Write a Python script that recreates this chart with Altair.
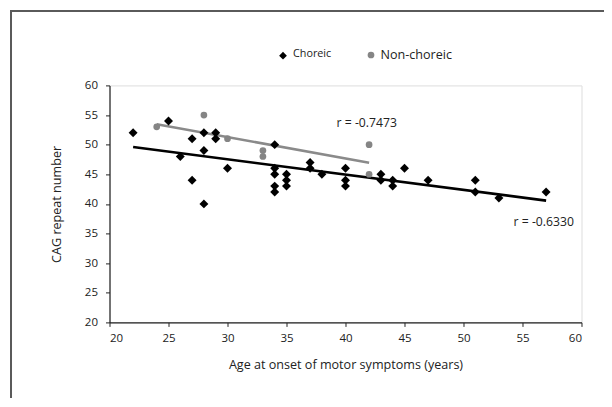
import altair as alt
import pandas as pd

# ---- data ----
choreic_age = [22, 25, 26, 27, 27, 28, 28, 28, 29, 29, 30,
               34, 34, 34, 34, 34, 35, 35, 35, 37, 37, 38,
               40, 40, 40, 43, 43, 44, 44, 45, 47, 51, 51, 53, 57]
choreic_cag = [52, 54, 48, 51, 44, 52, 49, 40, 52, 51, 46,
               50, 46, 45, 43, 42, 45, 44, 43, 47, 46, 45,
               46, 44, 43, 45, 44, 44, 43, 46, 44, 44, 42, 41, 42]
nonchoreic_age = [24, 28, 30, 33, 33, 42, 42]
nonchoreic_cag = [53, 55, 51, 49, 48, 50, 45]

r_labels = ["r = -0.7473", "r = -0.6330"]
r_label_age = [41.8, 56.8]
r_label_cag = [53.7, 37.0]

legend_labels = ["Choreic", "Non-choreic"]

FONT = "Open Sans"

cho = pd.DataFrame({"age": choreic_age, "cag": choreic_cag})
non = pd.DataFrame({"age": nonchoreic_age, "cag": nonchoreic_cag})
ann = pd.DataFrame({"age": r_label_age, "cag": r_label_cag, "label": r_labels})
one = pd.DataFrame({"k": [0]})

xscale = alt.Scale(domain=[20, 60], nice=False, zero=False)
yscale = alt.Scale(domain=[20, 60], nice=False, zero=False)

xaxis = alt.Axis(title="Age at onset of motor symptoms (years)",
                 values=list(range(20, 61, 5)), grid=False,
                 domainColor="#222", domainWidth=1.2, tickColor="#222",
                 tickSize=4, labelPadding=6, labelFontSize=11.5, labelFont=FONT,
                 labelColor="#222", titleFont=FONT, titleFontSize=12.6,
                 titleFontWeight="normal", titleColor="#222", titlePadding=15)
yaxis = alt.Axis(title="CAG repeat number",
                 values=list(range(20, 61, 5)), grid=False,
                 domainColor="#222", domainWidth=1.2, tickColor="#222",
                 tickSize=4, labelPadding=8, labelFontSize=11.5, labelFont=FONT,
                 labelColor="#222", titleFont=FONT, titleFontSize=12.6,
                 titleFontWeight="normal", titleColor="#222", titlePadding=21)

X = alt.X("age:Q", scale=xscale, axis=xaxis)
Y = alt.Y("cag:Q", scale=yscale, axis=yaxis)

frame = alt.Chart(one).mark_rect(fillOpacity=0, stroke="#5a5a5a", strokeWidth=2).encode(
    x=alt.value(-98.5), x2=alt.value(520), y=alt.value(-74.4), y2=alt.value(340))

black_line = alt.Chart(cho).mark_line(color="#000", strokeWidth=2.6).transform_regression(
    "age", "cag").encode(x=X, y=Y)
gray_line = alt.Chart(non).mark_line(color="#8a8a8a", strokeWidth=2.6).transform_regression(
    "age", "cag").encode(x=X, y=Y)

black_pts = alt.Chart(cho).mark_point(shape="diamond", filled=True, color="#000",
                                      size=80, opacity=1).encode(x=X, y=Y)
gray_pts = alt.Chart(non).mark_circle(color="#858585", size=45, opacity=1).encode(x=X, y=Y)

r_text = alt.Chart(ann).mark_text(font=FONT, fontSize=12.2, color="#222",
                                  align="center", baseline="middle").encode(
    x=X, y=Y, text="label:N")

leg_d = alt.Chart(one).mark_point(shape="diamond", filled=True, color="#000",
                                  size=60, opacity=1).encode(
    x=alt.value(173.5), y=alt.value(-29.7))
leg_d_t = alt.Chart(one).mark_text(font=FONT, fontSize=10.8, color="#222",
                                   align="left", baseline="middle").encode(
    x=alt.value(183.5), y=alt.value(-31), text=alt.value(legend_labels[0]))
leg_c = alt.Chart(one).mark_circle(color="#858585", size=45, opacity=1).encode(
    x=alt.value(261.5), y=alt.value(-30.4))
leg_c_t = alt.Chart(one).mark_text(font=FONT, fontSize=12.6, color="#222",
                                   align="left", baseline="middle").encode(
    x=alt.value(271), y=alt.value(-30.5), text=alt.value(legend_labels[1]))

chart = alt.layer(frame, gray_line, black_line, black_pts, gray_pts, r_text,
                  leg_d, leg_d_t, leg_c, leg_c_t).properties(
    width=472, height=237,
    autosize=alt.AutoSizeParams(type="none"),
    padding={"left": 101.5, "top": 77.4, "right": 22, "bottom": 76},
).configure_view(stroke=None).configure(background="white")

chart.save("out.html", embed_options={"renderer": "svg", "actions": False})
